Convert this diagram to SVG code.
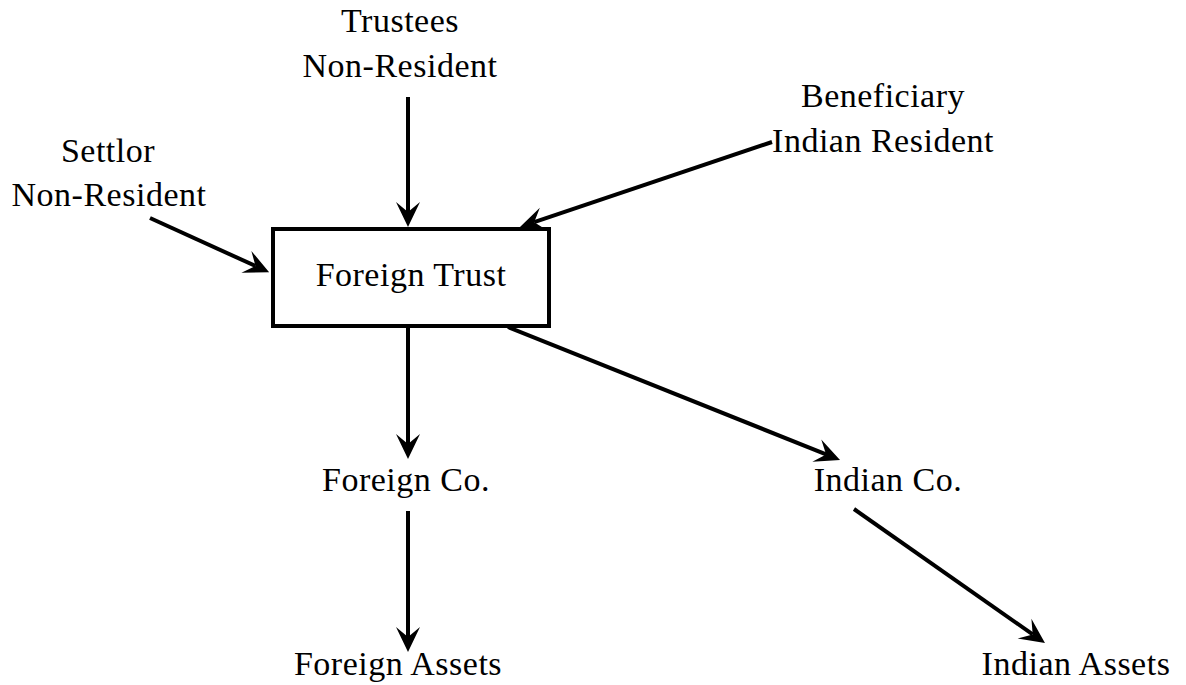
<svg xmlns="http://www.w3.org/2000/svg" width="1186" height="685" viewBox="0 0 1186 685">
<style>
.t{font-family:"Liberation Serif","Times New Roman",serif;font-size:34px;letter-spacing:0.5px;text-anchor:middle;fill:#000}
.c{stroke:#000;stroke-width:4;fill:none;marker-end:url(#ah)}
</style>
<defs>
<marker id="ah" markerUnits="userSpaceOnUse" viewBox="-12 -14 30 28" markerWidth="30" markerHeight="28" refX="0" refY="0" orient="auto" overflow="visible">
<path d="M15,0 L-10,-12 L0,0 L-10,12 Z" fill="#000"/>
</marker>
</defs>
<rect width="1186" height="685" fill="#fff"/>
<g id="connectors">
<line class="c" x1="408" y1="97" x2="408" y2="212"/>
<line class="c" x1="772" y1="142" x2="534.2" y2="222.2"/>
<line class="c" x1="150" y1="218" x2="255.5" y2="266"/>
<line class="c" x1="408" y1="327" x2="408" y2="444"/>
<line class="c" x1="508" y1="327" x2="826.1" y2="454.4"/>
<line class="c" x1="408" y1="511" x2="408" y2="637"/>
<line class="c" x1="854" y1="509" x2="1032.7" y2="634.4"/>
</g>
<g id="trustees"><text class="t" x="400" y="32">Trustees</text><text class="t" x="400" y="77">Non-Resident</text></g>
<g id="beneficiary"><text class="t" x="883" y="107">Beneficiary</text><text class="t" x="883" y="152">Indian Resident</text></g>
<g id="settlor"><text class="t" x="108" y="162">Settlor</text><text class="t" x="109" y="206">Non-Resident</text></g>
<g id="foreign-trust"><rect x="273" y="229" width="276" height="97" fill="#fff" stroke="#000" stroke-width="4"/><text class="t" x="411" y="286">Foreign Trust</text></g>
<g id="foreign-co"><text class="t" x="406" y="491">Foreign Co.</text></g>
<g id="indian-co"><text class="t" x="888" y="491">Indian Co.</text></g>
<g id="foreign-assets"><text class="t" x="398" y="675">Foreign Assets</text></g>
<g id="indian-assets"><text class="t" x="1076" y="675">Indian Assets</text></g>
</svg>
